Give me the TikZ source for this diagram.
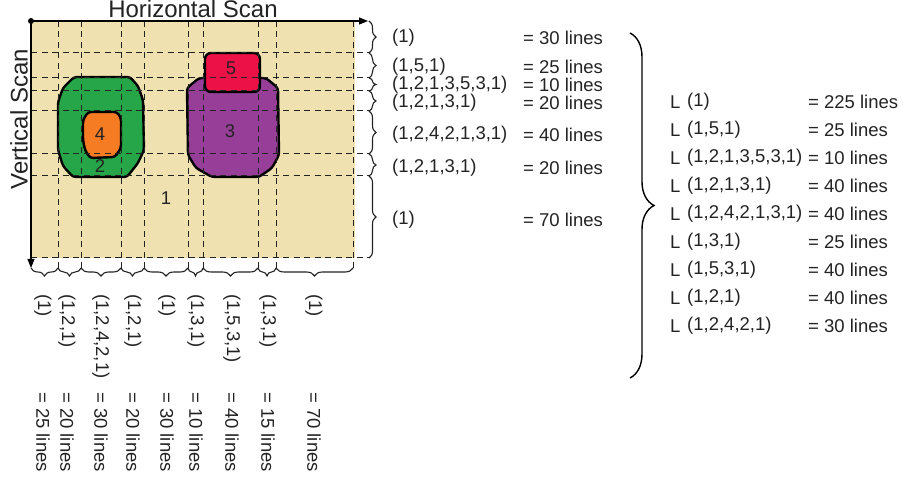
\documentclass[tikz,border=0pt]{standalone}
\usepackage{fontspec}
\setmainfont{Liberation Sans}
\usetikzlibrary{decorations.pathreplacing,arrows.meta}
\definecolor{bgy}{RGB}{240,226,176}
\definecolor{grn}{RGB}{38,166,72}
\definecolor{org}{RGB}{246,124,36}
\definecolor{prp}{RGB}{150,62,152}
\definecolor{rd}{RGB}{236,18,72}
\definecolor{ink}{RGB}{35,35,35}
\begin{document}
\begin{tikzpicture}[x=1pt,y=-1pt,
  lbl/.style={font=\fontsize{18.5}{22}\selectfont, inner sep=0pt, anchor=west, text=ink},
  vlbl/.style={lbl, rotate=-90},
  big/.style={font=\fontsize{24}{28}\selectfont, inner sep=0pt, text=ink},
  grid/.style={draw=ink, line width=1pt, dash pattern=on 6pt off 4.5pt},
  region/.style={draw=black, line width=2.4pt, rounded corners=3pt, line join=round},
  rbrace/.style={draw=ink, line width=1.1pt, decorate, decoration={brace, amplitude=7pt}},
  bbrace/.style={draw=ink, line width=1.1pt, decorate, decoration={brace, amplitude=8pt, mirror}},
  axis/.style={draw=black, line width=1.1pt, -{Triangle[length=9pt,width=7pt]}}
]
\useasboundingbox (0,0) rectangle (913,478);
% background
\fill[bgy] (31,21) rectangle (355,258);
% regions
\draw[region, fill=grn] (74,77) -- (130,77) -- (138,86) -- (143,100) -- (144,150) -- (138,163) -- (127,177) -- (73,177) -- (63,166) -- (58,150) -- (58,102) -- (63,88) -- cycle;
\draw[region, fill=org] (88,112) -- (117,112) -- (121,118) -- (121,148) -- (115,157) -- (90,158) -- (85,150) -- (83,140) -- (83,120) -- cycle;
\draw[region, fill=prp] (199,78) -- (266,78) -- (278,88) -- (279,155) -- (272,168) -- (259,177) -- (212,177) -- (196,168) -- (188,155) -- (187,88) -- cycle;
\draw[region, fill=rd, rounded corners=6pt] (205,53) rectangle (260,92);
% grid
\foreach \x in {58,81,121,144,188,203,258,276,353} \draw[grid] (\x,21) -- (\x,268);
\foreach \y in {53,78,91,111,154,176,258} \draw[grid] (31,\y) -- (370,\y);
% axes
\coordinate (o) at (31,21);
\coordinate (hx) at (368,21);
\coordinate (vy) at (31,268);
\fill[black] (o) circle (3pt);
\draw[axis] (o) -- (hx);
\draw[axis] (o) -- (vy);
\node[big] (hs) at (193,9) {Horizontal Scan};
\node[big, rotate=90] (vs) at (19,119) {Vertical Scan};
% region labels
\node[lbl, anchor=center] (r1) at (166,198) {1};
\node[lbl, anchor=center] (r2) at (100,166) {2};
\node[lbl, anchor=center] (r4) at (100,134) {4};
\node[lbl, anchor=center] (r3) at (230,131) {3};
\node[lbl, anchor=center] (r5) at (231,68) {5};
% right braces
\foreach \a/\b in {21/53,53/78,78/91,91/111,111/154,154/176,176/258}
  \draw[rbrace] (369,\a) -- (369,\b);
% bottom braces
\foreach \a/\b in {31/58,58/81,81/121,121/144,144/188,188/203,203/258,258/276,276/353}
  \draw[bbrace] (\a,268) -- (\b,268);
% row labels
\foreach \n/\y/\t/\v in {a/38/{(1)}/30, b/67/{(1,5,1)}/25, c/85/{(1,2,1,3,5,3,1)}/10, d/103/{(1,2,1,3,1)}/20, e/135/{(1,2,4,2,1,3,1)}/40, f/168/{(1,2,1,3,1)}/20, g/220/{(1)}/70} {
  \node[lbl] (rt\n) at (392,\y) {\t};
  \node[lbl] (rv\n) at (523,\y) {= \v\ lines};
}
% column labels
\foreach \n/\x/\t/\v in {a/43/{(1)}/25, b/67/{(1,2,1)}/20, c/101/{(1,2,4,2,1)}/30, d/133/{(1,2,1)}/20, e/167/{(1)}/30, f/196/{(1,3,1)}/10, g/232/{(1,5,3,1)}/40, h/268/{(1,3,1)}/15, i/314/{(1)}/70} {
  \node[vlbl] (ct\n) at (\x,294) {\t};
  \node[vlbl] (cv\n) at (\x,392) {= \v\ lines};
}
% big brace
\draw[draw=black, line width=1.4pt, decorate, decoration={brace, amplitude=24pt}] (630,33) -- (630,378);
% run list
\foreach \n/\y/\t/\v in {a/102/{(1)}/225, b/130/{(1,5,1)}/25, c/158/{(1,2,1,3,5,3,1)}/10, d/186/{(1,2,1,3,1)}/40, e/214/{(1,2,4,2,1,3,1)}/40, f/242/{(1,3,1)}/25, g/270/{(1,5,3,1)}/40, h/298/{(1,2,1)}/40, i/326/{(1,2,4,2,1)}/30} {
  \node[lbl] (lL\n) at (670,\y) {L};
  \node[lbl] (lt\n) at (687,\y) {\t};
  \node[lbl] (lv\n) at (808,\y) {= \v\ lines};
}
\end{tikzpicture}
\end{document}
